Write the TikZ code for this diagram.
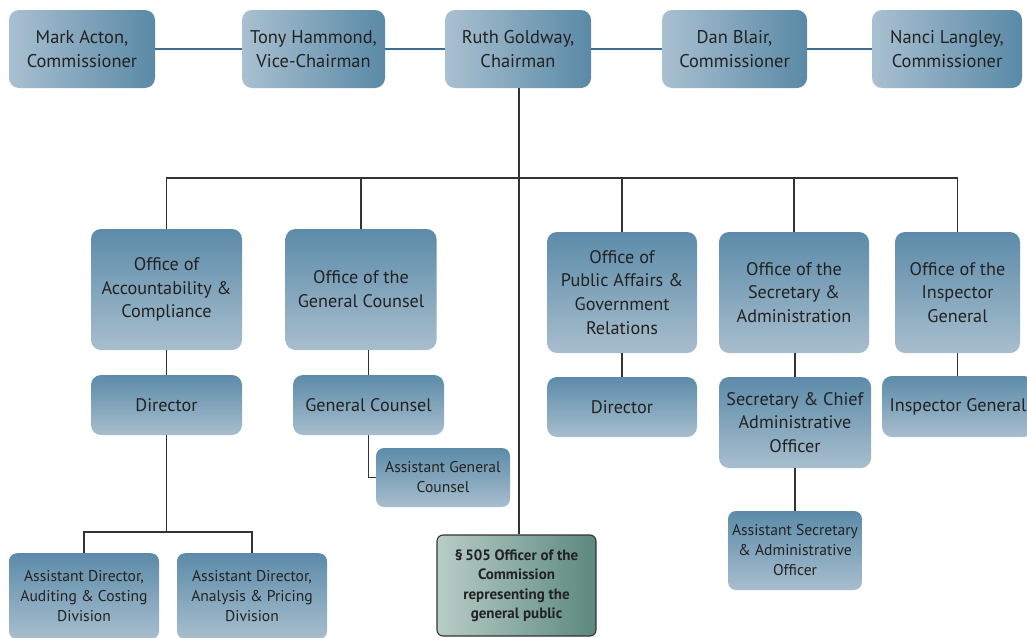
\documentclass[tikz,border=0pt]{standalone}
\usepackage{fontspec}
\setmainfont{PT Sans}
\definecolor{txt}{HTML}{222222}
\definecolor{hlight}{HTML}{A9C0D1}
\definecolor{hdark}{HTML}{5A89A6}
\definecolor{vtop}{HTML}{5C8BA9}
\definecolor{vbot}{HTML}{A8BECE}
\definecolor{glight}{HTML}{B8CDC7}
\definecolor{gdark}{HTML}{5C887E}
\definecolor{blueline}{HTML}{3E6D94}
\definecolor{grayline}{HTML}{333333}
\tikzset{
  topbox/.style={rounded corners=10pt, left color=hlight, right color=hdark, draw=none,
    align=center, text=txt, font=\fontsize{18.4}{23.5}\selectfont, inner sep=0pt},
  orgbox/.style={rounded corners=10pt, top color=vtop, bottom color=vbot, draw=none,
    align=center, text=txt, font=\fontsize{18.2}{23.8}\selectfont, inner sep=0pt},
  smallbox/.style={orgbox, rounded corners=8pt, font=\fontsize{15.6}{20}\selectfont},
  pubbox/.style={rounded corners=6pt, left color=glight, right color=gdark, draw=grayline, line width=1.1pt,
    align=center, text=txt, font=\bfseries\fontsize{15}{19.5}\selectfont, inner sep=0pt},
  peer/.style={draw=blueline, line width=1.3pt},
  link/.style={draw=grayline, line width=1.1pt}
}
\begin{document}
\begin{tikzpicture}[x=1pt,y=-1pt]
\useasboundingbox (0,0) rectangle (1027,637);
% top row
\node[topbox, minimum width=146pt, minimum height=78pt] (mark) at (82,49) {Mark Acton,\\Commissioner};
\node[topbox, minimum width=143pt, minimum height=78pt] (tony) at (313.5,49) {Tony Hammond,\\Vice-Chairman};
\node[topbox, minimum width=146pt, minimum height=78pt] (ruth) at (518,49) {Ruth Goldway,\\Chairman};
\node[topbox, minimum width=145pt, minimum height=78pt] (dan) at (734.5,49) {Dan Blair,\\Commissioner};
\node[topbox, minimum width=150pt, minimum height=78pt] (nanci) at (947,49) {Nanci Langley,\\Commissioner};
% offices
\node[orgbox, minimum width=151pt, minimum height=121pt] (acc) at (166.5,289.5) {Office of\\Accountability \&\\Compliance};
\node[orgbox, minimum width=151pt, minimum height=121pt] (gc) at (361,289.5) {Office of the\\General Counsel};
\node[orgbox, minimum width=150pt, minimum height=121pt] (pa) at (622,292.5) {Office of\\Public Affairs \&\\Government\\Relations};
\node[orgbox, minimum width=150pt, minimum height=121pt] (sec) at (794,292.5) {Office of the\\Secretary \&\\Administration};
\node[orgbox, minimum width=125pt, minimum height=121pt] (ig) at (957.5,292.5) {Office of the\\Inspector\\General};
% third row
\node[orgbox, minimum width=151pt, minimum height=60pt] (accd) at (166.5,405) {Director};
\node[orgbox, minimum width=151pt, minimum height=60pt] (gcd) at (368.5,405) {General Counsel};
\node[orgbox, minimum width=150pt, minimum height=60pt] (pad) at (622,407) {Director};
\node[orgbox, minimum width=152pt, minimum height=91pt] (secd) at (795,422.5) {Secretary \& Chief\\Administrative\\Officer};
\node[orgbox, minimum width=152pt, minimum height=61pt] (igd) at (958,406.5) {Inspector General};
% fourth row
\node[smallbox, minimum width=134pt, minimum height=59pt] (agc) at (443,477.5) {Assistant General\\Counsel};
\node[smallbox, minimum width=134pt, minimum height=79pt] (asec) at (795,550.5) {Assistant Secretary\\\& Administrative\\Officer};
\node[smallbox, minimum width=150pt, minimum height=86pt, anchor=north] (ad1) at (84,553) {Assistant Director,\\Auditing \& Costing\\Division};
\node[smallbox, minimum width=150pt, minimum height=86pt, anchor=north] (ad2) at (252,553) {Assistant Director,\\Analysis \& Pricing\\Division};
\node[pubbox, minimum width=159pt, minimum height=101pt] (pub) at (516.5,585.5) {\S\,505 Officer of the\\Commission\\representing the\\general public};
% commissioner links
\draw[peer] (mark) -- (tony);
\draw[peer] (tony) -- (ruth);
\draw[peer] (ruth) -- (dan);
\draw[peer] (dan) -- (nanci);
% chairman bus
\coordinate (bus) at (519,178);
\draw[link] (ruth.south -| bus) -- (pub.north -| bus);
\draw[link] (acc.north) |- (ig.north |- bus) -- (ig.north);
\draw[link] (gc.north) -- (gc.north |- bus);
\draw[link] (pa.north) -- (pa.north |- bus);
\draw[link] (sec.north) -- (sec.north |- bus);
% office to director
\draw[link] (acc.south) -- (accd.north);
\draw[link] (gcd.north) -- (gcd.north |- gc.south);
\draw[link] (pa.south) -- (pad.north);
\draw[link] (sec.south -| secd.north) -- (secd.north);
\draw[link] (ig.south) -- (ig.south |- igd.north);
% lower links
\draw[link] (gcd.south) |- (agc.west);
\draw[link] (secd.south) -- (secd.south |- asec.north);
\coordinate (adbus) at (166.5,532);
\draw[link] (accd.south) -- (adbus);
\draw[link] (ad1.north) |- (adbus) -| (ad2.north);
\end{tikzpicture}
\end{document}
